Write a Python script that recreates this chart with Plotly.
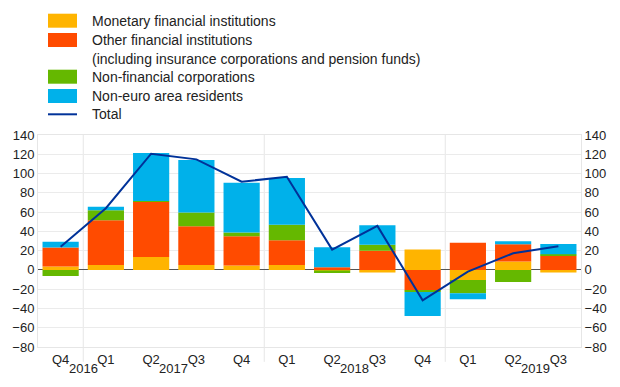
import plotly.graph_objects as go

quarters = ["Q4", "Q1", "Q2", "Q3", "Q4", "Q1", "Q2", "Q3", "Q4", "Q1", "Q2", "Q3"]
years = ["2016", "2017", "2018", "2019"]
year_label_pos = [0.5, 2.5, 6.5, 10.5]
year_boundaries = [0.5, 4.5, 8.5]

mfi = [3.5, 5.2, 13.5, 5.2, 4.5, 5.2, -0.5, -2.6, 21.1, -10.4, 8.7, -2.8]
ofi = [19.7, 46.4, 57.2, 40.2, 30.5, 25.6, 2.8, 19.8, -21.1, 28.1, 18.0, 14.6]
nfc = [-6.2, 10.4, 0.7, 14.2, 3.8, 16.0, -2.8, 6.2, -1.8, -13.9, -12.5, 1.7]
nea = [5.9, 3.5, 49.9, 54.4, 51.7, 48.5, 20.7, 20.4, -24.9, -6.2, 3.1, 10.7]
total = [24.0, 64.0, 120.6, 114.7, 91.5, 96.7, 21.1, 45.7, -31.5, -1.7, 17.3, 24.6]

series_names = [
    "Monetary financial institutions",
    "Other financial institutions<br>(including insurance corporations and pension funds)",
    "Non-financial corporations",
    "Non-euro area residents",
]
colors = ["#FFB400", "#FF4B00", "#65B800", "#00B1EA"]
line_color = "#003299"

x = list(range(len(quarters)))
fig = go.Figure()
for vals, name, c in zip([mfi, ofi, nfc, nea], series_names, colors):
    fig.add_trace(go.Bar(x=x, y=vals, name=name, marker=dict(color=c, line=dict(width=0)),
                         showlegend=False))
fig.add_trace(go.Scatter(x=x, y=total, mode="lines", name="Total",
                         line=dict(color=line_color, width=2), showlegend=False))
# invisible trace for right axis
fig.add_trace(go.Scatter(x=[x[0]], y=[0], yaxis="y2", mode="markers",
                         marker=dict(opacity=0), showlegend=False, hoverinfo="skip"))

FONT = "Liberation Sans, Arial, sans-serif"
L, R, T, B = 38, 39, 135, 40
W, H = 620, 387
pw, ph = W - L - R, H - T - B

def px_x(p):
    return (p - L) / pw

def px_y(p):
    return (H - B - p) / ph

shapes = []
annotations = []
# year separators
for b in year_boundaries:
    shapes.append(dict(type="line", xref="x", yref="paper", x0=b, x1=b, y0=-0.07, y1=1,
                       line=dict(color="#e6e6e6", width=1), layer="below"))
# year labels
for yr, pos in zip(years, year_label_pos):
    annotations.append(dict(text=yr, xref="x", yref="paper", x=pos, y=px_y(368),
                            showarrow=False, font=dict(size=13, color="#222", family=FONT),
                            xanchor="center", yanchor="middle"))
# manual legend
leg_rows = [20.7, 40.0, 76.7, 96.0]
for name, c, yy in zip(series_names, colors, leg_rows):
    shapes.append(dict(type="rect", xref="paper", yref="paper",
                       x0=px_x(48), x1=px_x(77), y0=px_y(yy + 7), y1=px_y(yy - 7),
                       fillcolor=c, line=dict(width=0)))
    parts = name.split("<br>")
    for i, part in enumerate(parts):
        annotations.append(dict(text=part, xref="paper", yref="paper", x=px_x(90),
                                y=px_y(yy + 19.3 * i), showarrow=False, xanchor="left",
                                yanchor="middle", font=dict(size=14, color="#222", family=FONT)))
shapes.append(dict(type="line", xref="paper", yref="paper", x0=px_x(48), x1=px_x(77),
                   y0=px_y(114.3), y1=px_y(114.3), line=dict(color=line_color, width=2)))
annotations.append(dict(text="Total", xref="paper", yref="paper", x=px_x(90), y=px_y(114.3),
                        showarrow=False, xanchor="left", yanchor="middle",
                        font=dict(size=14, color="#222", family=FONT)))

yticks = list(range(-80, 141, 20))
yax = dict(range=[-80, 140], tickvals=yticks, showgrid=True, gridcolor="#ebebeb",
           zeroline=True, zerolinecolor="#555555", zerolinewidth=1,
           showline=True, linecolor="#e6e6e6", ticks="", fixedrange=True, automargin=False,
           tickfont=dict(size=13, color="#222", family=FONT))
fig.update_layout(
    width=W, height=H, margin=dict(l=L, r=R, t=T, b=B),
    plot_bgcolor="white", paper_bgcolor="white",
    barmode="relative", bargap=0.2,
    font=dict(family=FONT, size=13, color="#222"),
    xaxis=dict(range=[-0.5, len(quarters) - 0.5], tickvals=x, ticktext=quarters,
               showgrid=False, zeroline=False, showline=True, linecolor="#e6e6e6",
               mirror=True, ticks="", automargin=False, fixedrange=True,
               tickfont=dict(size=13, color="#222", family=FONT)),
    yaxis=dict(**yax, side="left"),
    yaxis2=dict(**yax, side="right", overlaying="y", matches="y"),
    shapes=shapes, annotations=annotations, showlegend=False,
)
fig.write_html("out.html", config={"displayModeBar": False},
               post_script="document.body.style.margin='0';document.body.style.overflow='hidden';")
